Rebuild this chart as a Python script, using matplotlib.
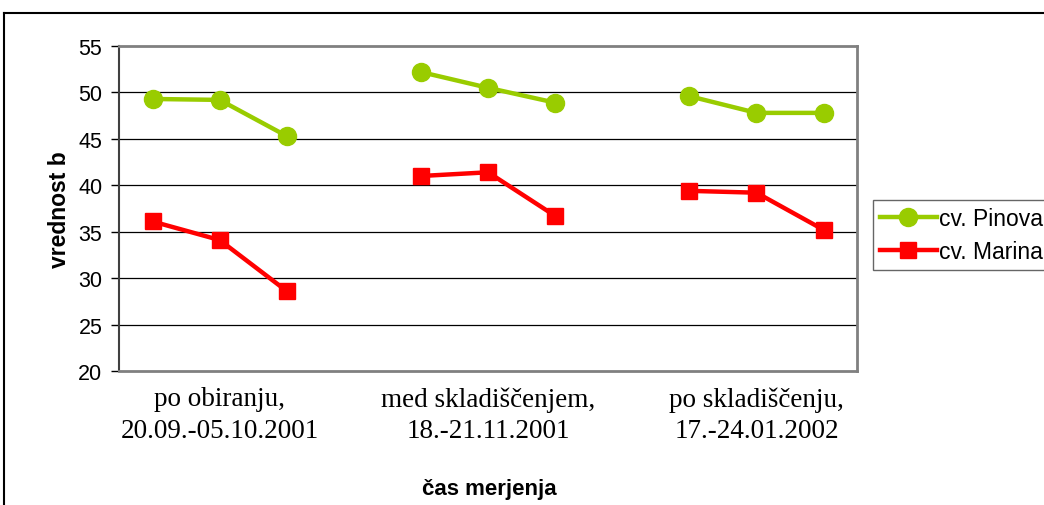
import numpy as np
import matplotlib.pyplot as plt
from matplotlib.lines import Line2D

# b values, three measurements per period (NaN separates the periods)
pinova = [49.3, 49.2, 45.3, np.nan, 52.2, 50.5, 48.9, np.nan, 49.6, 47.8, 47.8]
marina = [36.1, 34.1, 28.6, np.nan, 41.0, 41.4, 36.7, np.nan, 39.4, 39.2, 35.2]
periods = ["po obiranju,\n20.09.-05.10.2001",
           "med skladiščenjem,\n18.-21.11.2001",
           "po skladiščenju,\n17.-24.01.2002"]
period_pos = [1, 5, 9]
yticks = [20, 25, 30, 35, 40, 45, 50, 55]

plt.rcParams['font.family'] = ['Liberation Sans', 'DejaVu Sans']

fig = plt.figure(figsize=(10.44, 5.06), dpi=100)
ax = fig.add_axes([0.114, 0.265, 0.707, 0.642])

x = np.arange(len(pinova))
ax.plot(x, pinova, color='#99CC00', lw=3.2, marker='o', ms=13, label='cv. Pinova')
ax.plot(x, marina, color='#FF0000', lw=3.2, marker='s', ms=11, label='cv. Marina')

ax.set_xlim(-0.5, 10.5)
ax.set_ylim(20, 55)
ax.set_yticks(yticks)
ax.tick_params(axis='y', labelsize=15.5, length=6, width=1, direction='out', pad=6)
for v in yticks[1:-1]:
    ax.axhline(v, color='black', lw=0.9, zorder=0)

ax.set_xticks(period_pos)
ax.set_xticklabels(periods, family=['Liberation Serif'], fontsize=19.5, linespacing=1.35)
ax.tick_params(axis='x', length=0, pad=11)

for s in ax.spines.values():
    s.set_color('#808080')
    s.set_linewidth(2)
ax.spines['left'].set_color('#404040')
ax.spines['left'].set_linewidth(1.5)

ax.set_ylabel('vrednost b', fontsize=16.5, fontweight='bold', labelpad=5)
fig.text(0.469, 0.033, 'čas merjenja', fontsize=16, fontweight='bold', ha='center', va='center')

leg = fig.legend(loc='center left', bbox_to_anchor=(0.836, 0.534), fontsize=16.5,
                 frameon=True, fancybox=False, handlelength=2.5, handletextpad=0.1,
                 borderpad=0.3, labelspacing=0.45, borderaxespad=0)
leg.get_frame().set_edgecolor('#404040')
leg.get_frame().set_linewidth(1)

# outer chart border, running off the right and bottom
fig.add_artist(Line2D([0.004, 1.0], [0.972, 0.972], color='black', lw=1.5, transform=fig.transFigure))
fig.add_artist(Line2D([0.004, 0.004], [0.0, 0.972], color='black', lw=1.5, transform=fig.transFigure))

fig.savefig('out.png', dpi=100)
